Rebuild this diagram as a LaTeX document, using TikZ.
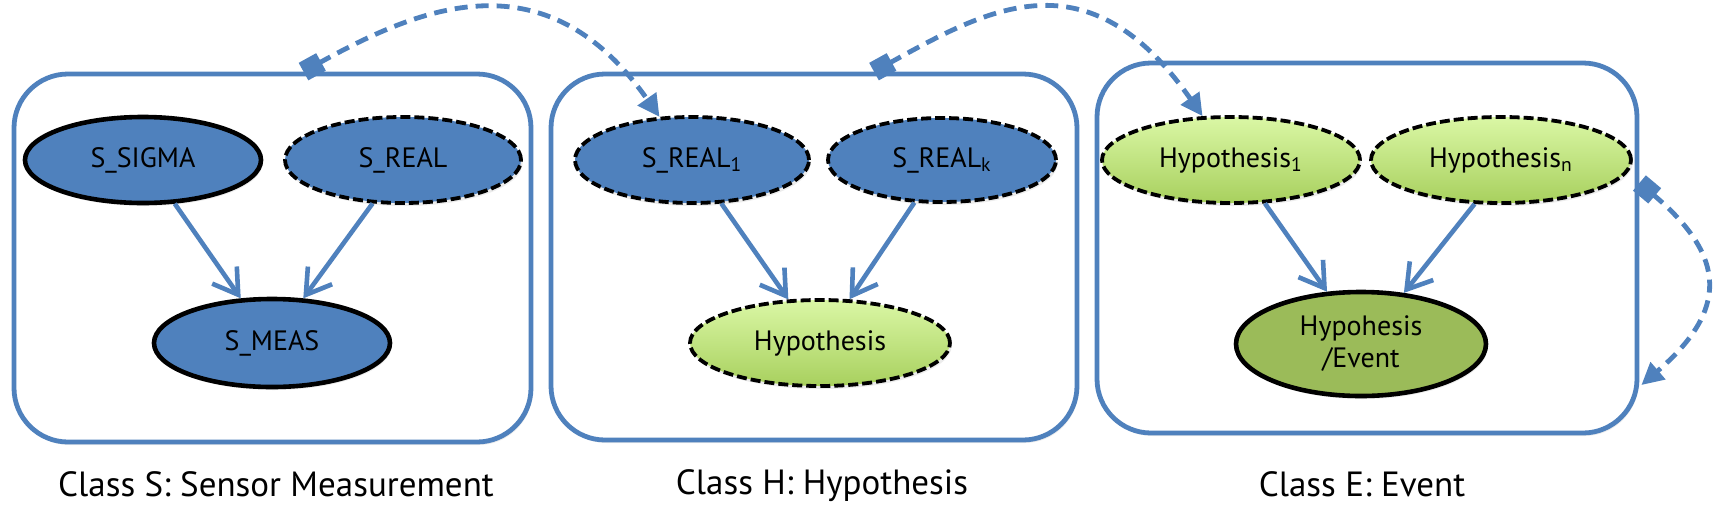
\documentclass[tikz,border=0pt]{standalone}
\usepackage{fontspec}
\setmainfont{PT Sans}
\usetikzlibrary{arrows.meta,calc,shadows,shapes.geometric}
\definecolor{ublue}{HTML}{4F81BD}
\definecolor{lgtop}{RGB}{218,247,165}
\definecolor{lgbot}{RGB}{168,208,94}
\definecolor{dgreen}{HTML}{9BBB59}
\begin{document}
\begin{tikzpicture}[x=0.5pt,y=-0.5pt,
  classbox/.style={draw=ublue, line width=2.4pt, rounded corners=27pt, fill=white,
    drop shadow={shadow xshift=0.8pt,shadow yshift=-1.5pt,opacity=0.15}},
  ell/.style={ellipse, draw=black, inner sep=0pt, font=\fontsize{14}{16}\selectfont,
    drop shadow={shadow xshift=0.8pt,shadow yshift=-1.5pt,opacity=0.15}},
  solidrim/.style={line width=2.3pt},
  dashrim/.style={line width=1.9pt, dash pattern=on 5pt off 2pt},
  bluenode/.style={ell, fill=ublue},
  greennode/.style={ell, top color=lgtop, bottom color=lgbot},
  darkgreennode/.style={ell, fill=dgreen},
  arr/.style={draw=ublue, line width=2.3pt, -{Straight Barb[length=12pt,width=15pt,line width=2.3pt]}},
  link/.style={draw=ublue, line width=2.4pt, dash pattern=on 6.5pt off 4pt,
    {Square[length=10pt,width=10pt]}-{Triangle[length=11pt,width=11pt]}},
  caption/.style={font=\fontsize{17.5}{20}\selectfont}
]
\useasboundingbox (0,0) rectangle (1718,520);

% class boxes
\node[classbox, minimum width=258.5pt, minimum height=184pt] (box1) at (272.5,258) {};
\node[classbox, minimum width=263pt, minimum height=183pt] (box2) at (814,257) {};
\node[classbox, minimum width=270pt, minimum height=185pt] (box3) at (1367,248) {};

% class S
\node[bluenode, solidrim, minimum width=118pt, minimum height=43pt] (ssigma) at (143,160) {S\_SIGMA};
\node[bluenode, dashrim, minimum width=118pt, minimum height=43pt] (sreal) at (403,160) {S\_REAL};
\node[bluenode, solidrim, minimum width=118pt, minimum height=44pt] (smeas) at (272,343) {S\_MEAS};

% class H
\node[bluenode, dashrim, minimum width=117pt, minimum height=43pt] (sreal1) at (692,160) {S\_REAL\textsubscript{1}};
\node[bluenode, dashrim, minimum width=114pt, minimum height=42pt] (srealk) at (942,160) {S\_REAL\textsubscript{k}};
\node[greennode, dashrim, minimum width=130pt, minimum height=43pt] (hyp) at (820,343) {Hypothesis};

% class E
\node[greennode, dashrim, minimum width=129pt, minimum height=43pt] (hyp1) at (1231,160) {Hypothesis\textsubscript{1}};
\node[greennode, dashrim, minimum width=130pt, minimum height=43pt] (hypn) at (1501,160) {Hypothesis\textsubscript{n}};
\node[darkgreennode, solidrim, minimum width=125pt, minimum height=52pt, align=center] (hev) at (1361,344) {Hypohesis\\/Event};

% captions
\node[caption] (capS) at (276,484) {Class S: Sensor Measurement};
\node[caption] (capH) at (822,486) {Class H: Hypothesis};
\node[caption] (capE) at (1362,484) {Class E: Event};

% solid arrows
\draw[arr] (ssigma.-54) -- (smeas.125);
\draw[arr] (sreal.-125) -- (smeas.55);
\draw[arr] (sreal1.-56) -- (hyp.126);
\draw[arr] (srealk.-123) -- (hyp.56);
\draw[arr] (hyp1.-52) -- (hev.123);
\draw[arr] (hypn.-121) -- (hev.50);

% dashed links
\draw[link] ($(box1.north)+(31,0)$) .. controls +(114,-63) and +(-115,-164) .. (sreal1.127);
\draw[link] ($(box2.north)+(60,0)$) .. controls +(114,-63) and +(-115,-164) .. (hyp1.123);
\draw[link] ($(box3.east)+(0,-65)$) .. controls +(88,74) and +(87,-75) .. ($(box3.east)+(2,137)$);
\end{tikzpicture}
\end{document}
